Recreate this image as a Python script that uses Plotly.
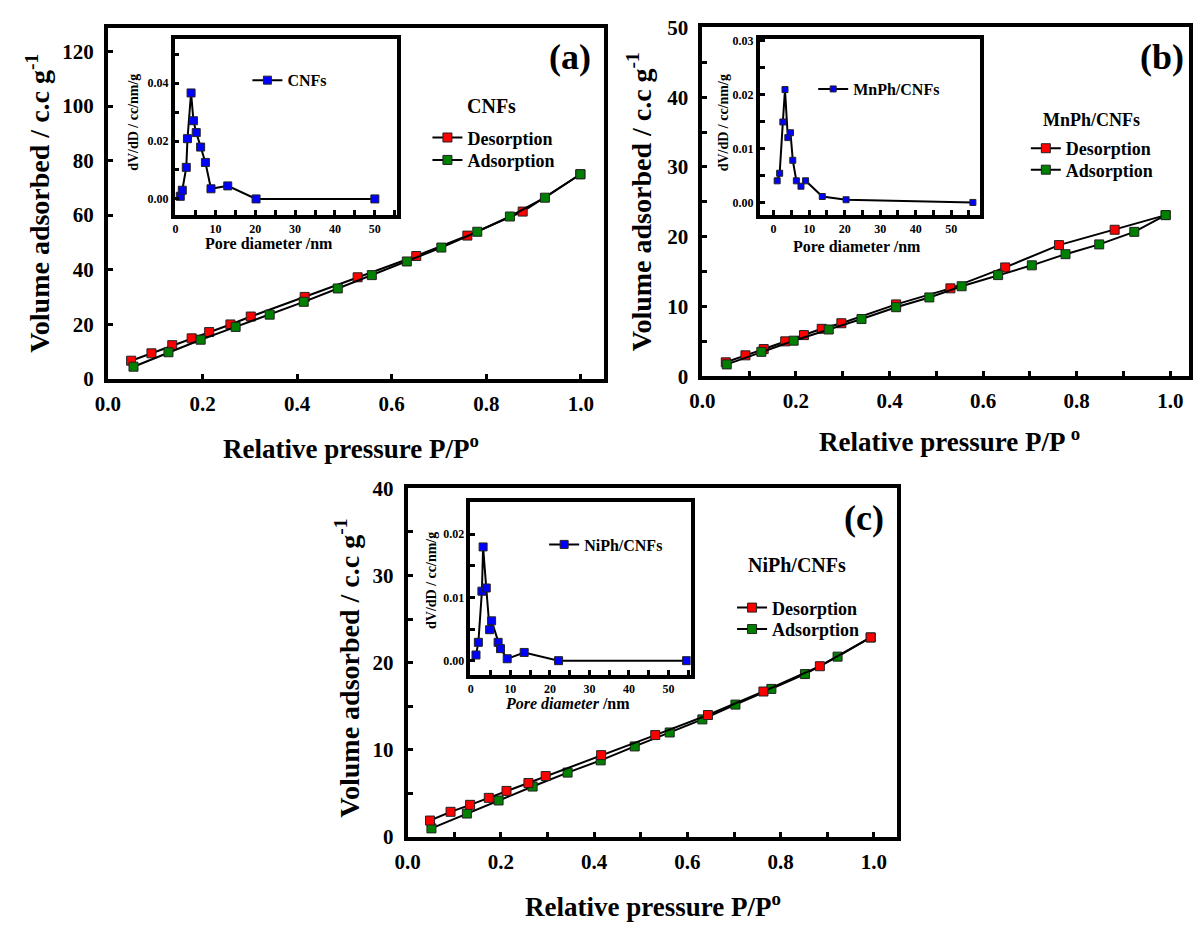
import plotly.graph_objects as go

W, H = 1193, 932
FONT = "'Liberation Serif', 'Times New Roman', Times, serif"

# ---------------- data ----------------
# (a) CNFs isotherm
a_des_p = [0.049, 0.092, 0.136, 0.177, 0.214, 0.259, 0.302, 0.416, 0.528, 0.652, 0.760, 0.877, 0.999]
a_des_v = [6.6, 9.3, 12.3, 14.8, 17.1, 19.9, 22.8, 30.0, 37.2, 45.0, 52.5, 61.3, 75.0]
a_ads_p = [0.054, 0.128, 0.196, 0.270, 0.342, 0.414, 0.486, 0.558, 0.632, 0.705, 0.781, 0.850, 0.924, 0.999]
a_ads_v = [4.4, 9.7, 14.3, 19.0, 23.5, 28.2, 33.1, 38.0, 43.0, 48.1, 53.9, 59.5, 66.4, 75.0]
# (a) inset pore size distribution
cnf_d = [1.2, 1.7, 2.7, 3.0, 3.9, 4.5, 5.2, 6.3, 7.5, 8.9, 13.1, 20.2, 50.0]
cnf_dv = [0.0009, 0.0030, 0.0109, 0.0208, 0.0366, 0.0270, 0.0229, 0.0179, 0.0126, 0.0035, 0.0045, 0.0000, 0.0000]

# (b) MnPh/CNFs isotherm
b_des_p = [0.050, 0.092, 0.131, 0.177, 0.217, 0.255, 0.297, 0.414, 0.530, 0.647, 0.762, 0.881, 0.990]
b_des_v = [2.0, 3.0, 3.9, 5.0, 5.9, 6.8, 7.6, 10.3, 12.6, 15.6, 18.8, 21.0, 23.1]
b_ads_p = [0.052, 0.126, 0.195, 0.270, 0.340, 0.414, 0.485, 0.554, 0.632, 0.704, 0.776, 0.848, 0.923, 0.990]
b_ads_v = [1.7, 3.5, 5.1, 6.7, 8.2, 9.9, 11.3, 12.9, 14.5, 15.9, 17.5, 18.9, 20.7, 23.1]
# (b) inset
mn_d = [1.0, 1.7, 2.6, 3.2, 4.0, 4.75, 5.4, 6.4, 7.7, 9.0, 13.7, 20.4, 56.1]
mn_dv = [0.0040, 0.0054, 0.0149, 0.0209, 0.0120, 0.0129, 0.0078, 0.0040, 0.0030, 0.0040, 0.0011, 0.0005, 0.0000]

# (c) NiPh/CNFs isotherm
c_des_p = [0.048, 0.092, 0.134, 0.174, 0.212, 0.259, 0.296, 0.415, 0.531, 0.644, 0.763, 0.884, 0.993]
c_des_v = [1.9, 2.9, 3.7, 4.5, 5.3, 6.2, 7.0, 9.4, 11.7, 14.0, 16.7, 19.6, 22.9]
c_ads_p = [0.051, 0.127, 0.195, 0.268, 0.343, 0.414, 0.487, 0.562, 0.632, 0.703, 0.780, 0.852, 0.922, 0.993]
c_ads_v = [1.0, 2.7, 4.2, 5.8, 7.4, 8.8, 10.4, 12.0, 13.5, 15.2, 17.0, 18.7, 20.7, 22.9]
# (c) inset
ni_d = [1.3, 1.9, 2.8, 3.1, 3.9, 4.75, 5.25, 6.9, 7.5, 9.2, 13.5, 22.2, 54.6]
ni_dv = [0.0009, 0.0029, 0.0110, 0.0180, 0.0115, 0.0049, 0.0063, 0.0029, 0.0019, 0.0003, 0.0013, 0.0000, 0.0000]

panel_labels = ["(a)", "(b)", "(c)"]
sample_names = ["CNFs", "MnPh/CNFs", "NiPh/CNFs"]
series_names = ["Desorption", "Adsorption"]

RED, GREEN, BLUE = "#ff0000", "#008000", "#0000ff"


def X(px):
    return px / W


def Y(py):
    return 1 - py / H


fig = go.Figure()


def iso_trace(p, v, color, name, xa, ya, leg):
    return go.Scatter(
        x=p, y=v, mode="lines+markers", name=name,
        line=dict(color="black", width=2),
        marker=dict(symbol="square", size=9, color=color, line=dict(color="#222", width=1)),
        xaxis=xa, yaxis=ya, legend=leg,
    )


def psd_trace(d, dv, name, xa, ya, leg, msize):
    return go.Scatter(
        x=d, y=dv, mode="lines+markers", name=name,
        line=dict(color="black", width=2),
        marker=dict(symbol="square", size=msize, color=BLUE, line=dict(color="#222", width=1)),
        xaxis=xa, yaxis=ya, legend=leg,
    )


# (a)
fig.add_trace(iso_trace(a_des_p, a_des_v, RED, series_names[0], "x", "y", "legend"))
fig.add_trace(iso_trace(a_ads_p, a_ads_v, GREEN, series_names[1], "x", "y", "legend7"))
fig.add_trace(psd_trace(cnf_d, cnf_dv, sample_names[0], "x2", "y2", "legend2", 8))
# (b)
fig.add_trace(iso_trace(b_des_p, b_des_v, RED, series_names[0], "x3", "y3", "legend3"))
fig.add_trace(iso_trace(b_ads_p, b_ads_v, GREEN, series_names[1], "x3", "y3", "legend8"))
fig.add_trace(psd_trace(mn_d, mn_dv, sample_names[1], "x4", "y4", "legend4", 6))
# (c)  adsorption drawn first so the red end point is on top
fig.add_trace(iso_trace(c_ads_p, c_ads_v, GREEN, series_names[1], "x5", "y5", "legend9"))
fig.add_trace(iso_trace(c_des_p, c_des_v, RED, series_names[0], "x5", "y5", "legend5"))
fig.add_trace(psd_trace(ni_d, ni_dv, sample_names[2], "x6", "y6", "legend6", 8))


def axis(dom, rng, dtick, anchor, minor=None, fmt=None, fsize=21, lw=4, standoff=None):
    d = dict(
        domain=dom, range=rng, dtick=dtick, tick0=0, anchor=anchor,
        showline=True, linecolor="black", linewidth=lw, mirror=True,
        ticks="inside", ticklen=5, tickwidth=3, tickcolor="black",
        showgrid=False, zeroline=False,
        tickfont=dict(family=FONT, size=fsize, color="black", weight="bold"),
    )
    if fmt:
        d["tickformat"] = fmt
    if minor:
        d["minor"] = dict(dtick=minor, tick0=0, ticks="inside", ticklen=5, tickwidth=3,
                          tickcolor="black", showgrid=False)
    if standoff is not None:
        d["ticklabelstandoff"] = standoff
    return d


def xdom(l, r):
    return [X(l), X(r)]


def ydom(top, bottom):
    return [Y(bottom), Y(top)]


layout = dict(
    width=W, height=H, margin=dict(l=0, r=0, t=0, b=0),
    paper_bgcolor="white", plot_bgcolor="white", showlegend=True,
    # (a)
    xaxis=axis(xdom(96, 598), [0, 1.05], 0.2, "y", fmt=".1f", standoff=3),
    yaxis=axis(ydom(17, 377), [0, 128.8], 20, "x", standoff=6),
    xaxis2=axis(xdom(163.5, 388), [-0.2, 55.5], 10, "y2", minor=5, fsize=12, lw=3.5),
    yaxis2=axis(ydom(28.5, 209), [-0.0055, 0.0553], 0.02, "x2", minor=0.01, fmt=".2f", fsize=12, lw=3.5),
    # (b)
    xaxis3=axis(xdom(697, 1189), [0, 1.04], 0.2, "y3", minor=0.1, fmt=".1f", standoff=3),
    yaxis3=axis(ydom(16.5, 374.5), [0, 50.05], 10, "x3", minor=5, standoff=6),
    xaxis4=axis(xdom(755, 978), [-3.9, 58.2], 10, "y4", minor=5, fsize=12, lw=3.5),
    yaxis4=axis(ydom(28.5, 209), [-0.0023, 0.0303], 0.01, "x4", minor=0.005, fmt=".2f", fsize=12, lw=3.5),
    # (c)
    xaxis5=axis(xdom(399, 894), [0, 1.05], 0.2, "y5", minor=0.1, fmt=".1f", standoff=3),
    yaxis5=axis(ydom(489, 847), [0, 40.05], 10, "x5", minor=5, standoff=6),
    xaxis6=axis(xdom(462.5, 685), [-0.1, 55.6], 10, "y6", minor=5, fsize=12, lw=3.5),
    yaxis6=axis(ydom(503.5, 681), [-0.0023, 0.0251], 0.01, "x6", minor=0.005, fmt=".2f", fsize=12, lw=3.5),
)


def leg(x, y, size):
    # x: left edge of legend box (text starts ~40 px right of it); y: centre of the single entry
    return dict(x=X(x), y=Y(y), xanchor="left", yanchor="middle", xref="paper", yref="paper",
                bgcolor="rgba(0,0,0,0)", borderwidth=0,
                font=dict(family=FONT, size=size, color="black", weight="bold"))


layout["legend"] = leg(419, 130, 18)
layout["legend7"] = leg(419, 153, 18)
layout["legend2"] = leg(237, 71, 16)
layout["legend3"] = leg(1024, 141, 18)
layout["legend8"] = leg(1024, 163, 18)
layout["legend4"] = leg(809, 80, 16)
layout["legend5"] = leg(727, 612, 18)
layout["legend9"] = leg(727, 634, 18)
layout["legend6"] = leg(537, 547, 16)

fig.update_layout(**layout)


def ann(text, x, y, size, angle=0):
    fig.add_annotation(text=text, x=X(x), y=Y(y), xref="paper", yref="paper",
                       xanchor="center", yanchor="middle", showarrow=False, textangle=angle,
                       font=dict(family=FONT, size=size, color="black", weight="bold"))


YT = "Volume adsorbed / c.c g<sup>-1</sup>"
IYT = "dV/dD / cc/nm/g"
# panel labels
ann(panel_labels[0], 563, 47, 36)
ann(panel_labels[1], 1162, 47, 36)
ann(panel_labels[2], 860, 520, 36)
# sample names
ann(sample_names[0], 484, 97, 20)
ann(sample_names[1], 1090, 112, 18)
ann(sample_names[2], 793, 568, 20)
# main axis titles
ann(YT, 25, 197, 28, angle=-90)
ann(YT, 633, 196, 28, angle=-90)
ann(YT, 338, 674, 28, angle=-90)
ann("Relative pressure P/P<sup>o</sup>", 342, 447, 27)
ann("Relative pressure P/P <sup>o</sup>", 947, 440, 27)
ann("Relative pressure P/P<sup>o</sup>", 647, 917, 27)
# inset axis titles
ann(IYT, 122, 114, 14, angle=-90)
ann(IYT, 718, 115, 14, angle=-90)
ann(IYT, 423, 584, 14, angle=-90)
ann("Pore diameter /nm", 259, 238, 16)
ann("Pore diameter /nm", 853, 241, 16)
ann("<i>Pore diameter</i> /nm", 561, 710, 16)

fig.write_html("out.html", config={"displayModeBar": False},
               post_script="document.body.style.margin='0';document.body.style.overflow='hidden';")
